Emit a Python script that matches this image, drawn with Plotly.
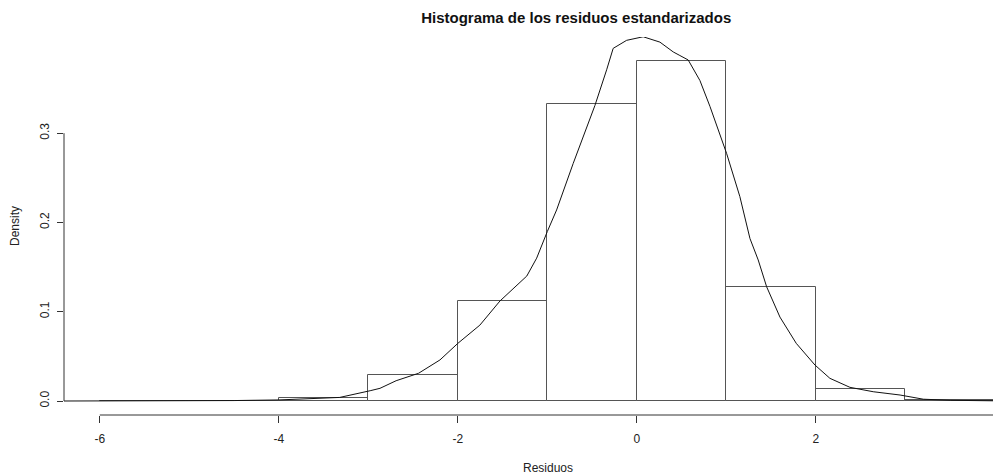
import plotly.graph_objects as go

# Histogram (density scale), bins of width 1
bin_left = [-6, -5, -4, -3, -2, -1, 0, 1, 2, 3]
bin_density = [0.0, 0.0, 0.003, 0.029, 0.112, 0.333, 0.381, 0.128, 0.013, 0.001]

# Kernel density curve
dens_x = [-6.4, -5.5, -4.5, -4.0, -3.6, -3.32, -2.98, -2.87, -2.69, -2.44, -2.2, -2.0,
          -1.754, -1.53, -1.23, -1.12, -1.0, -0.897, -0.712, -0.469, -0.338, -0.265,
          -0.115, 0.07, 0.257, 0.406, 0.48, 0.573, 0.704, 0.816, 1.003, 1.15, 1.263,
          1.355, 1.449, 1.598, 1.78, 1.989, 2.156, 2.38, 2.64, 2.94, 3.2, 3.5, 4.0, 4.4]
dens_y = [0.0, 0.0, 0.0005, 0.0012, 0.0025, 0.004, 0.0115, 0.0142, 0.0227, 0.031, 0.046, 0.0646,
          0.085, 0.112, 0.140, 0.160, 0.19, 0.214, 0.266, 0.331, 0.371, 0.395,
          0.404, 0.408, 0.402, 0.391, 0.387, 0.382, 0.359, 0.330, 0.277, 0.229, 0.182,
          0.158, 0.128, 0.094, 0.0646, 0.0403, 0.0254, 0.0153, 0.0104, 0.0067, 0.002, 0.0008, 0.0002, 0.0]

x_ticks = [-6, -4, -2, 0, 2, 4]
y_ticks = [0.0, 0.1, 0.2, 0.3]
y_tick_text = ["0.0", "0.1", "0.2", "0.3"]

title = "Histograma de los residuos estandarizados"
x_label = "Residuos"
y_label = "Density"

FONT = "Liberation Sans, Arial, sans-serif"
BAR_LINE = "#555555"
AX = "#333333"

centers = [b + 0.5 for b in bin_left]

fig = go.Figure()
fig.add_trace(go.Bar(
    x=centers, y=bin_density, width=[1.0] * len(centers),
    marker=dict(color="rgba(255,255,255,0)", line=dict(color=BAR_LINE, width=1)),
    hoverinfo="x+y", showlegend=False,
))
fig.add_trace(go.Scatter(
    x=dens_x, y=dens_y, mode="lines",
    line=dict(color="#111111", width=1),
    showlegend=False, hoverinfo="skip",
))

M = max(bin_density) * 1.029
y_range = [-0.04 * M, 1.04 * M]

shown_x = [t for t in x_ticks if t <= 3.978]

fig.update_layout(
    width=993, height=476,
    margin=dict(l=64, r=0, t=37, b=61, pad=0),
    paper_bgcolor="white", plot_bgcolor="white",
    font=dict(family=FONT, size=12, color="#222222"),
    bargap=0,
    title=dict(text="<b>" + title + "</b>", x=547.5 / 993, xanchor="center",
               xref="paper", y=1 - 18 / 476, yref="container", yanchor="middle",
               font=dict(family=FONT, size=15, color="#111111")),
    xaxis=dict(range=[-6.4, 3.978], showgrid=False, zeroline=False, showline=False,
               tickmode="array", tickvals=shown_x, ticktext=[str(t) for t in shown_x],
               ticks="outside", ticklen=7, tickcolor=AX, tickwidth=1,
               ticklabelstandoff=6, tickfont=dict(size=12, color="#222222")),
    yaxis=dict(range=y_range, showgrid=False, zeroline=False, showline=False,
               tickmode="array", tickvals=y_ticks, ticktext=y_tick_text,
               ticks="outside", ticklen=6, tickcolor=AX, tickwidth=1, tickangle=-90,
               ticklabelstandoff=3, tickfont=dict(size=12, color="#222222")),
    shapes=[
        dict(type="line", xref="x", yref="paper", x0=min(x_ticks), x1=max(x_ticks), y0=0, y1=0,
             line=dict(color=AX, width=1)),
        dict(type="line", xref="paper", yref="y", x0=0, x1=0, y0=min(y_ticks), y1=max(y_ticks),
             line=dict(color=AX, width=1)),
    ],
    annotations=[
        dict(text=x_label, xref="paper", yref="paper", x=(547.5 - 64) / 929,
             y=0, yshift=-53, showarrow=False, xanchor="center", yanchor="middle",
             font=dict(size=12, color="#222222")),
        dict(text=y_label, xref="paper", yref="paper", x=0, xshift=-49, y=0.5,
             showarrow=False, textangle=-90, xanchor="center", yanchor="middle",
             font=dict(size=12, color="#222222")),
        dict(text=str(max(x_ticks)), xref="x", x=max(x_ticks), yref="paper", y=0, yshift=-25,
             showarrow=False, xanchor="center", yanchor="middle",
             font=dict(size=12, color="#222222")),
    ],
)

fig.write_html("out.html", config={"displayModeBar": False},
               post_script="document.body.style.margin='0';")
